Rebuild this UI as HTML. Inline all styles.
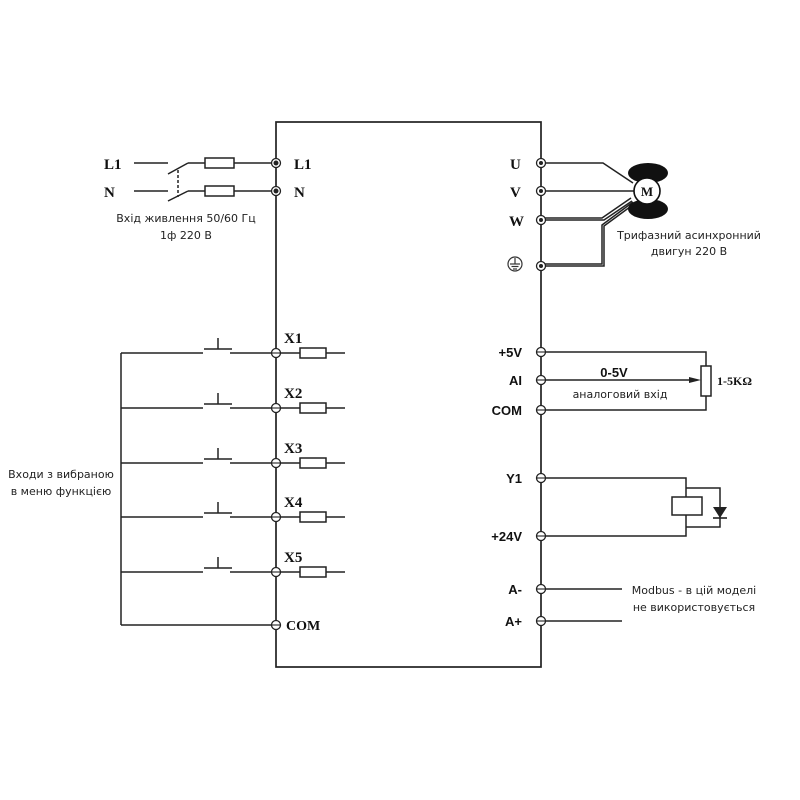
<!DOCTYPE html>
<html><head><style>
html,body{margin:0;padding:0;background:#fff;}
svg{display:block;}
.s{font-family:"Liberation Serif",serif;font-weight:bold;font-size:15px;fill:#111;}
.a{font-family:"Liberation Sans","DejaVu Sans",sans-serif;font-weight:bold;font-size:13px;fill:#111;}
.t{font-family:"DejaVu Sans","Liberation Sans",sans-serif;font-size:11px;fill:#222;}
</style></head><body>
<svg width="800" height="800" viewBox="0 0 800 800" xmlns="http://www.w3.org/2000/svg">
<g stroke="#222" stroke-width="1.5" fill="none">
<rect x="276" y="122" width="265" height="545" stroke-width="1.7"/>
<line x1="134" y1="163" x2="168" y2="163"/>
<line x1="134" y1="191" x2="168" y2="191"/>
<line x1="168" y1="174" x2="188" y2="163"/><line x1="188" y1="163" x2="276" y2="163"/>
<line x1="168" y1="201" x2="188" y2="191"/><line x1="188" y1="191" x2="276" y2="191"/>
<line x1="178" y1="170" x2="178" y2="197" stroke-dasharray="3,2"/>
<rect x="205" y="158" width="29" height="10" fill="#fff"/>
<rect x="205" y="186" width="29" height="10" fill="#fff"/>
<line x1="121" y1="353" x2="121" y2="625"/>
<line x1="121" y1="625" x2="276" y2="625"/>
<g><line x1="121" y1="353" x2="203" y2="353"/><line x1="204" y1="349" x2="232" y2="349"/><line x1="218" y1="349" x2="218" y2="338"/><line x1="230" y1="353" x2="345" y2="353"/><rect x="300" y="348" width="26" height="10" fill="#fff"/></g>
<g transform="translate(0,55)"><line x1="121" y1="353" x2="203" y2="353"/><line x1="204" y1="349" x2="232" y2="349"/><line x1="218" y1="349" x2="218" y2="338"/><line x1="230" y1="353" x2="345" y2="353"/><rect x="300" y="348" width="26" height="10" fill="#fff"/></g>
<g transform="translate(0,110)"><line x1="121" y1="353" x2="203" y2="353"/><line x1="204" y1="349" x2="232" y2="349"/><line x1="218" y1="349" x2="218" y2="338"/><line x1="230" y1="353" x2="345" y2="353"/><rect x="300" y="348" width="26" height="10" fill="#fff"/></g>
<g transform="translate(0,164)"><line x1="121" y1="353" x2="203" y2="353"/><line x1="204" y1="349" x2="232" y2="349"/><line x1="218" y1="349" x2="218" y2="338"/><line x1="230" y1="353" x2="345" y2="353"/><rect x="300" y="348" width="26" height="10" fill="#fff"/></g>
<g transform="translate(0,219)"><line x1="121" y1="353" x2="203" y2="353"/><line x1="204" y1="349" x2="232" y2="349"/><line x1="218" y1="349" x2="218" y2="338"/><line x1="230" y1="353" x2="345" y2="353"/><rect x="300" y="348" width="26" height="10" fill="#fff"/></g>
<polyline points="541,163 603,163 633,183"/>
<line x1="541" y1="191" x2="636" y2="191"/>
<polyline points="541,220 604,220 632,201"/>
<polyline points="541,218 602,218 631,198"/>
<polyline points="541,266 604,266 604,226 634,204"/>
<polyline points="541,264 602,264 602,225 633,202"/>
<polyline points="541,352 706,352 706,366"/>
<polyline points="541,410 706,410 706,396"/>
<rect x="701" y="366" width="10" height="30" fill="#fff"/>
<line x1="541" y1="380" x2="695" y2="380"/>
<polyline points="541,478 686,478 686,536 541,536"/>
<rect x="672" y="497" width="30" height="18" fill="#fff"/>
<polyline points="686,488 720,488 720,527 686,527"/>
<line x1="541" y1="589" x2="622" y2="589"/>
<line x1="541" y1="621" x2="622" y2="621"/>
</g>
<polygon points="701,380 689,377 689,383" fill="#222"/>
<polygon points="713,507 727,507 720,518" fill="#222"/>
<line x1="713" y1="518" x2="727" y2="518" stroke="#222" stroke-width="1.6"/>
<ellipse cx="648" cy="173" rx="20" ry="10" fill="#111"/>
<ellipse cx="648" cy="209" rx="20" ry="10" fill="#111"/>
<circle cx="647" cy="191" r="13" fill="#fff" stroke="#111" stroke-width="1.6"/>
<text x="647" y="196" text-anchor="middle" class="s" style="font-size:13px">M</text>
<g stroke="#222" stroke-width="1.3" fill="#fff">
<circle cx="276" cy="163" r="4.5"/><circle cx="276" cy="191" r="4.5"/>
<circle cx="276" cy="353" r="4.5"/><circle cx="276" cy="408" r="4.5"/><circle cx="276" cy="463" r="4.5"/><circle cx="276" cy="517" r="4.5"/><circle cx="276" cy="572" r="4.5"/><circle cx="276" cy="625" r="4.5"/>
<circle cx="541" cy="163" r="4.5"/><circle cx="541" cy="191" r="4.5"/><circle cx="541" cy="220" r="4.5"/><circle cx="541" cy="266" r="4.5"/>
<circle cx="541" cy="352" r="4.5"/><circle cx="541" cy="380" r="4.5"/><circle cx="541" cy="410" r="4.5"/><circle cx="541" cy="478" r="4.5"/><circle cx="541" cy="536" r="4.5"/><circle cx="541" cy="589" r="4.5"/><circle cx="541" cy="621" r="4.5"/>
</g>
<g stroke="#222" stroke-width="1.1">
<line x1="271" y1="353" x2="281" y2="353"/><line x1="271" y1="408" x2="281" y2="408"/><line x1="271" y1="463" x2="281" y2="463"/><line x1="271" y1="517" x2="281" y2="517"/><line x1="271" y1="572" x2="281" y2="572"/><line x1="271" y1="625" x2="281" y2="625"/>
<line x1="536" y1="352" x2="546" y2="352"/><line x1="536" y1="380" x2="546" y2="380"/><line x1="536" y1="410" x2="546" y2="410"/><line x1="536" y1="478" x2="546" y2="478"/><line x1="536" y1="536" x2="546" y2="536"/><line x1="536" y1="589" x2="546" y2="589"/><line x1="536" y1="621" x2="546" y2="621"/>
</g>
<g fill="#222"><circle cx="276" cy="163" r="2.5"/><circle cx="276" cy="191" r="2.5"/><circle cx="541" cy="163" r="2"/><circle cx="541" cy="191" r="2"/><circle cx="541" cy="220" r="2"/><circle cx="541" cy="266" r="2"/></g>
<circle cx="515" cy="264" r="7" fill="none" stroke="#333" stroke-width="1.2"/>
<g stroke="#333" stroke-width="1.2"><line x1="515" y1="258" x2="515" y2="264"/><line x1="510" y1="264" x2="520" y2="264"/><line x1="511.5" y1="266.5" x2="518.5" y2="266.5"/><line x1="513" y1="269" x2="517" y2="269"/></g>
<text x="104" y="169" class="s">L1</text><text x="104" y="197" class="s">N</text>
<text x="294" y="169" class="s">L1</text><text x="294" y="197" class="s">N</text>
<text x="284" y="343" class="s">X1</text><text x="284" y="398" class="s">X2</text><text x="284" y="453" class="s">X3</text><text x="284" y="507" class="s">X4</text><text x="284" y="562" class="s">X5</text>
<text x="286" y="630" class="s" style="font-size:14px">COM</text>
<text x="510" y="169" class="s">U</text><text x="510" y="197" class="s">V</text><text x="509" y="226" class="s">W</text>
<text x="522" y="357" class="a" text-anchor="end">+5V</text>
<text x="522" y="385" class="a" text-anchor="end">AI</text>
<text x="522" y="415" class="a" text-anchor="end">COM</text>
<text x="522" y="483" class="a" text-anchor="end">Y1</text>
<text x="522" y="541" class="a" text-anchor="end">+24V</text>
<text x="522" y="594" class="a" text-anchor="end">A-</text>
<text x="522" y="626" class="a" text-anchor="end">A+</text>
<text x="614" y="377" class="a" text-anchor="middle">0-5V</text>
<text x="620" y="398" class="t" text-anchor="middle">аналоговий вхід</text>
<text x="717" y="385" class="s" style="font-size:12px">1-5KΩ</text>
<text x="186" y="222" class="t" text-anchor="middle">Вхід живлення 50/60 Гц</text>
<text x="186" y="239" class="t" text-anchor="middle">1ф 220 В</text>
<text x="689" y="239" class="t" text-anchor="middle">Трифазний асинхронний</text>
<text x="689" y="255" class="t" text-anchor="middle">двигун 220 В</text>
<text x="61" y="478" class="t" text-anchor="middle">Входи з вибраною</text>
<text x="61" y="495" class="t" text-anchor="middle">в меню функцією</text>
<text x="694" y="594" class="t" text-anchor="middle">Modbus - в цій моделі</text>
<text x="694" y="611" class="t" text-anchor="middle">не використовується</text>
</svg>
</body></html>
